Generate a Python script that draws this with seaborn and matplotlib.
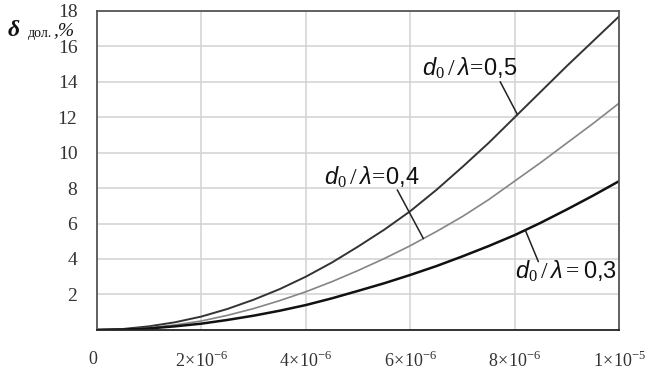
import matplotlib
matplotlib.use("Agg")
import matplotlib.pyplot as plt
import numpy as np
import pandas as pd
import seaborn as sns

# values (x in steps of 0.5e-6)
x_vals = [0, 0.5e-6, 1e-6, 1.5e-6, 2e-6, 2.5e-6, 3e-6, 3.5e-6, 4e-6, 4.5e-6, 5e-6,
          5.5e-6, 6e-6, 6.5e-6, 7e-6, 7.5e-6, 8e-6, 8.5e-6, 9e-6, 9.5e-6, 1e-5]
delta_05 = [0, 0.05, 0.2, 0.43, 0.75, 1.18, 1.7, 2.3, 3.0, 3.8, 4.7,
            5.65, 6.7, 7.9, 9.2, 10.55, 12.0, 13.45, 14.9, 16.3, 17.7]
delta_04 = [0, 0.03, 0.12, 0.28, 0.5, 0.82, 1.2, 1.65, 2.15, 2.72, 3.35,
            4.02, 4.75, 5.55, 6.4, 7.35, 8.4, 9.45, 10.55, 11.65, 12.8]
delta_03 = [0, 0.02, 0.08, 0.2, 0.35, 0.56, 0.8, 1.08, 1.4, 1.78, 2.2,
            2.63, 3.1, 3.6, 4.15, 4.73, 5.35, 6.05, 6.8, 7.58, 8.4]
ratios = ['0,5', '0,4', '0,3']

x_ticks = [0, 2e-6, 4e-6, 6e-6, 8e-6, 1e-5]
x_ticklabels = ['0', r'$2\!\times\!10^{-6}$', r'$4\!\times\!10^{-6}$',
                r'$6\!\times\!10^{-6}$', r'$8\!\times\!10^{-6}$', r'$1\!\times\!10^{-5}$']
y_ticks = [2, 4, 6, 8, 10, 12, 14, 16, 18]

sns.set_theme(style='whitegrid')
plt.rcParams['font.family'] = ['Liberation Serif', 'DejaVu Serif']
plt.rcParams['mathtext.fontset'] = 'custom'
plt.rcParams['mathtext.rm'] = 'Liberation Serif'
plt.rcParams['mathtext.it'] = 'Liberation Sans:italic'
plt.rcParams['mathtext.sf'] = 'Liberation Sans'

df = pd.DataFrame({
    'x': x_vals * 3,
    'delta': delta_05 + delta_04 + delta_03,
    'ratio': [r for r in ratios for _ in x_vals],
})

fig = plt.figure(figsize=(6.54, 3.74), dpi=100)
ax = fig.add_axes([0.148, 0.118, 0.799, 0.853])

palette = {'0,5': '#333333', '0,4': '#858585', '0,3': '#111111'}
sns.lineplot(data=df, x='x', y='delta', hue='ratio', palette=palette,
             size='ratio', sizes={'0,5': 1.4, '0,4': 1.2, '0,3': 1.8},
             legend=False, ax=ax)

ax.set_xlim(0, 1e-5)
ax.set_ylim(0, 18)
ax.set_xticks(x_ticks)
ax.set_xticklabels(x_ticklabels, fontsize=13, color='#333333')
ax.set_yticks(y_ticks)
ax.set_yticklabels([str(v) for v in y_ticks], fontsize=14, color='#333333')
ax.tick_params(axis='y', pad=8)
ax.tick_params(axis='x', pad=9)
ax.get_xticklabels()[0].set_horizontalalignment('right')
ax.set_xlabel('')
ax.set_ylabel('')
ax.grid(True, color='#d2d2d2', linewidth=1.1)
for s in ax.spines.values():
    s.set_color('#555555')
    s.set_linewidth(1.3)
ax.spines['bottom'].set_color('#222222')

# curve labels with leader lines
notes = [
    (delta_05, r'$d_{0}\,/\,\lambda\!=\!\mathsf{0{,}5}$', (7.13e-6, 14.8), (7.72e-6, 14.0), 8.05e-6),
    (delta_04, r'$d_{0}\,/\,\lambda\!=\!\mathsf{0{,}4}$', (5.27e-6, 8.6), (5.75e-6, 7.9), 6.25e-6),
    (delta_03, r'$d_{0}\,/\,\lambda = \mathsf{0{,}3}$', (8.97e-6, 3.3), (8.45e-6, 3.85), 8.2e-6),
]
for ys, txt, tpos, lstart, xc in notes:
    yc = np.interp(xc, x_vals, ys)
    ax.plot([lstart[0], xc], [lstart[1], yc], color='#222222', lw=1.1)
    ax.text(tpos[0], tpos[1], txt, fontsize=17, ha='center', va='center', color='#111111')

# y axis caption
fig.text(0.012, 0.905, 'δ', fontsize=17, fontweight='bold', style='italic', color='#111111')
fig.text(0.042, 0.9, 'дол.', fontsize=10, color='#111111')
fig.text(0.082, 0.905, ',%', fontsize=14, style='italic', color='#111111')

fig.savefig('out.png', dpi=100)
